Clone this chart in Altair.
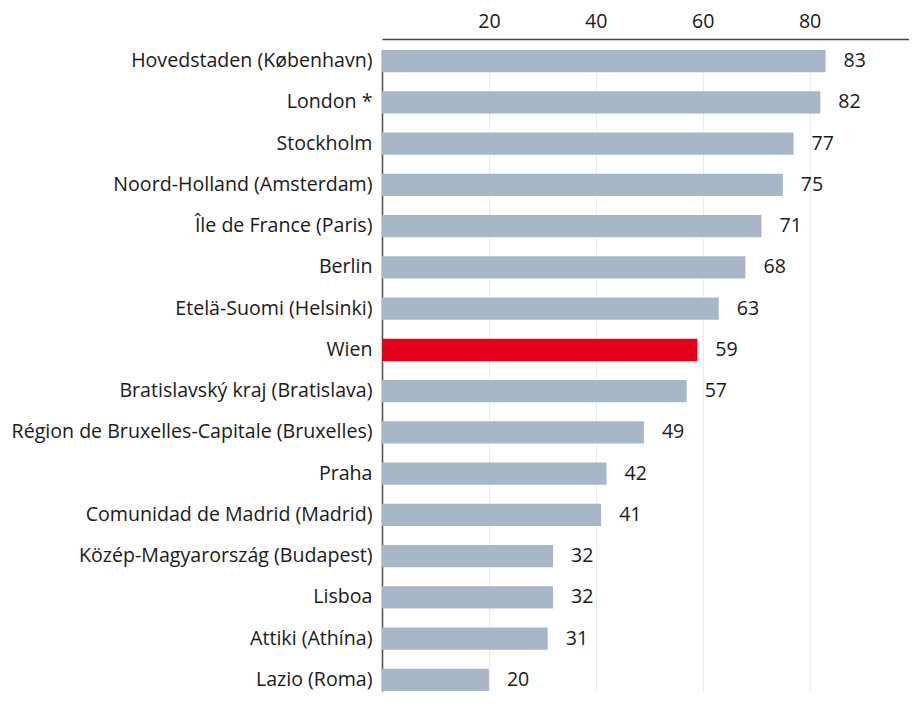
import altair as alt
import pandas as pd

regions = [
    "Hovedstaden (København)",
    "London *",
    "Stockholm",
    "Noord-Holland (Amsterdam)",
    "Île de France (Paris)",
    "Berlin",
    "Etelä-Suomi (Helsinki)",
    "Wien",
    "Bratislavský kraj (Bratislava)",
    "Région de Bruxelles-Capitale (Bruxelles)",
    "Praha",
    "Comunidad de Madrid (Madrid)",
    "Közép-Magyarország (Budapest)",
    "Lisboa",
    "Attiki (Athína)",
    "Lazio (Roma)",
]
values = [83, 82, 77, 75, 71, 68, 63, 59, 57, 49, 42, 41, 32, 32, 31, 20]
highlight = "Wien"
x_ticks = [20, 40, 60, 80]

df = pd.DataFrame({"region": regions, "value": values})

FONT = "Open Sans"
FS = 19.6
TXT = "#1a1a1a"

y_enc = alt.Y(
    "region:N",
    sort=regions,
    scale=alt.Scale(paddingInner=0.46, paddingOuter=0, range=[11, 652]),
    axis=alt.Axis(
        title=None, ticks=False, labelFont=FONT, labelFontSize=FS,
        labelColor=TXT, labelPadding=10, domainColor="#555", domainWidth=1.6,
        labelLimit=600,
    ),
)
x_enc = alt.X(
    "value:Q",
    scale=alt.Scale(domain=[0, 98.6], nice=False, zero=True),
    axis=alt.Axis(
        orient="top", values=x_ticks, title=None, ticks=False, grid=True,
        gridColor="#ebebeb", labelFont=FONT, labelFontSize=FS, labelColor=TXT,
        labelPadding=8, domainColor="#444", domainWidth=1.4,
    ),
)

base = alt.Chart(df)
bars = base.mark_bar().encode(
    x=x_enc,
    y=y_enc,
    color=alt.condition(
        alt.datum.region == highlight, alt.value("#e2001a"), alt.value("#a7b7c8")
    ),
)
text = base.mark_text(
    align="left", baseline="middle", dx=18, font=FONT, fontSize=FS, color=TXT
).encode(
    x="value:Q",
    y=alt.Y("region:N", sort=regions),
    text="value:Q",
)

chart = (
    (bars + text)
    .properties(
        width=527,
        height=657,
        autosize="none",
        padding={"left": 374, "top": 31, "right": 0, "bottom": 0},
    )
    .configure_view(stroke=None)
)

chart.save("out.html", embed_options={"renderer": "svg", "actions": False})
